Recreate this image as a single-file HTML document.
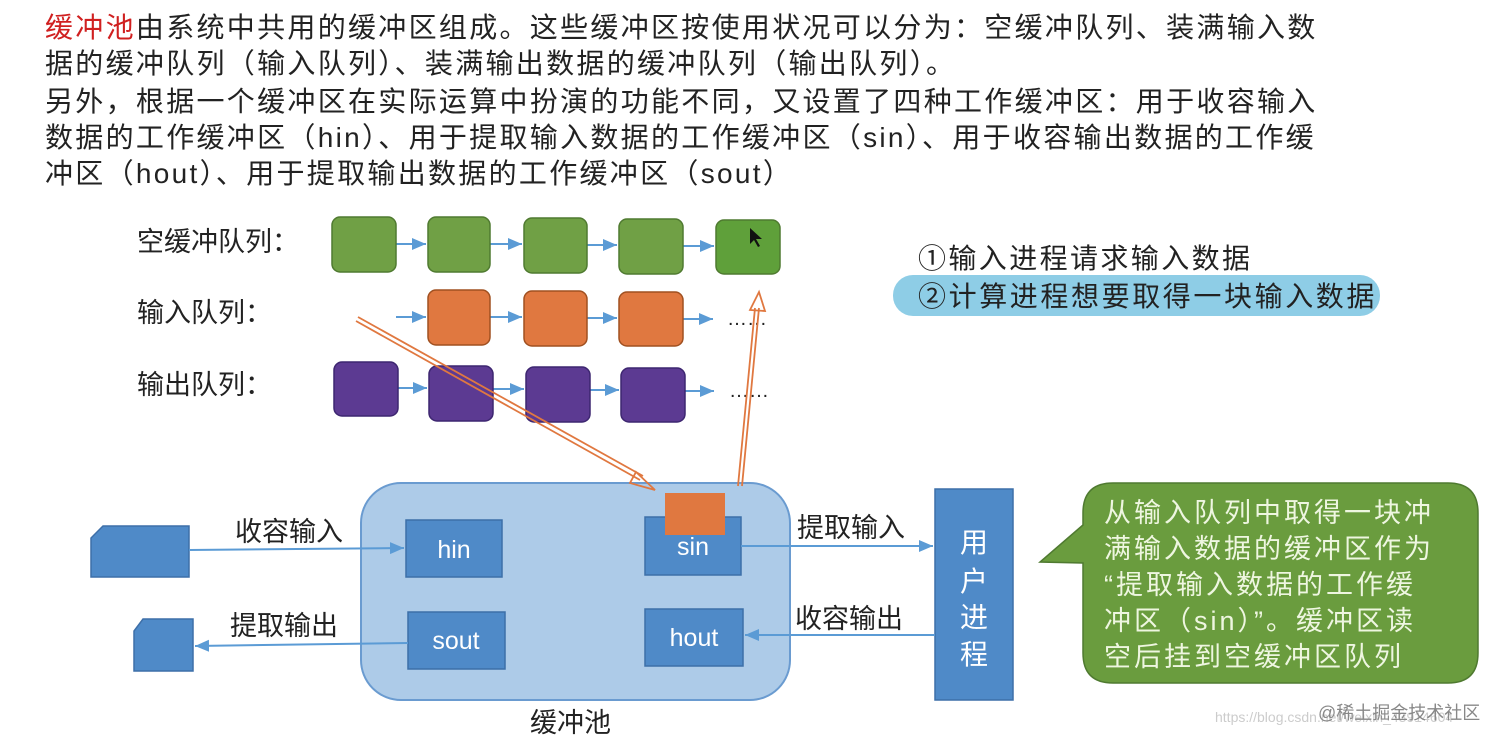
<!DOCTYPE html>
<html><head><meta charset="utf-8"><style>
html,body{margin:0;padding:0;background:#fff;}
.t{position:absolute;font-family:"Liberation Sans","Noto Sans CJK SC",sans-serif;white-space:nowrap;color:#222;}
</style></head><body>
<div style="position:relative;width:1501px;height:743px;overflow:hidden;">
<div class="t" style="left:45px;top:10px;font-size:28px;letter-spacing:2.3px;line-height:36px;"><span style="color:#d02020">缓冲池</span>由系统中共用的缓冲区组成。这些缓冲区按使用状况可以分为：空缓冲队列、装满输入数<br>据的缓冲队列（输入队列）、装满输出数据的缓冲队列（输出队列）。</div>
<div class="t" style="left:45px;top:84px;font-size:28px;letter-spacing:2.3px;line-height:36px;">另外，根据一个缓冲区在实际运算中扮演的功能不同，又设置了四种工作缓冲区：用于收容输入<br>数据的工作缓冲区（hin）、用于提取输入数据的工作缓冲区（sin）、用于收容输出数据的工作缓<br>冲区（hout）、用于提取输出数据的工作缓冲区（sout）</div>
<svg width="1501" height="743" style="position:absolute;left:0;top:0" font-family="Liberation Sans, Noto Sans CJK SC, sans-serif">
<defs><marker id="a" markerWidth="8" markerHeight="8" refX="7" refY="4" orient="auto"><path d="M0,1 L7,4 L0,7z" fill="#5b9bd5"/></marker></defs>
<rect x="893" y="275" width="487" height="41" rx="20" fill="#8ecde6"/>
<text x="918" y="268" font-size="28" letter-spacing="2.4" fill="#222">①输入进程请求输入数据</text>
<text x="918" y="306" font-size="28" letter-spacing="2.6" fill="#222">②计算进程想要取得一块输入数据</text>
<g font-size="27" fill="#222">
<text x="137" y="251">空缓冲队列：</text>
<text x="137" y="322">输入队列：</text>
<text x="137" y="394">输出队列：</text>
</g>
<g stroke="#5b9bd5" stroke-width="2" marker-end="url(#a)">
<line x1="396" y1="244" x2="426" y2="244"/><line x1="490" y1="244" x2="522" y2="244"/><line x1="587" y1="245" x2="617" y2="245"/><line x1="683" y1="246" x2="714" y2="246"/>
<line x1="396" y1="317" x2="426" y2="317"/><line x1="490" y1="317" x2="522" y2="317"/><line x1="587" y1="318" x2="617" y2="318"/><line x1="683" y1="319" x2="713" y2="319"/>
<line x1="398" y1="388" x2="427" y2="388"/><line x1="493" y1="389" x2="524" y2="389"/><line x1="590" y1="390" x2="619" y2="390"/><line x1="685" y1="391" x2="714" y2="391"/>
</g>
<text x="727" y="325" font-size="20" fill="#222">……</text>
<text x="729" y="397" font-size="20" fill="#222">……</text>
<g fill="#70a045" stroke="#4f7a30" stroke-width="1.5">
<rect x="332" y="217" width="64" height="55" rx="8"/><rect x="428" y="217" width="62" height="55" rx="8"/><rect x="524" y="218" width="63" height="55" rx="8"/><rect x="619" y="219" width="64" height="55" rx="8"/><rect x="716" y="220" width="64" height="54" rx="8" fill="#5fa03a"/>
</g>
<g fill="#e07840" stroke="#a05020" stroke-width="1.5">
<rect x="428" y="290" width="62" height="55" rx="8"/><rect x="524" y="291" width="63" height="55" rx="8"/><rect x="619" y="292" width="64" height="54" rx="8"/>
</g>
<g fill="#5c3a92" stroke="#3d2670" stroke-width="1.5">
<rect x="334" y="362" width="64" height="54" rx="8"/><rect x="429" y="366" width="64" height="55" rx="8"/><rect x="526" y="367" width="64" height="55" rx="8"/><rect x="621" y="368" width="64" height="54" rx="8"/>
</g>
<path d="M750,228 l0,16 l4,-4 l4,7 l2,-1 l-4,-7 l6,0z" fill="#111"/>
<rect x="361" y="483" width="429" height="217" rx="40" fill="#adcbe8" stroke="#6a9bd0" stroke-width="2"/>
<g fill="#4f8ac8" stroke="#3d6fa8" stroke-width="1.5">
<rect x="406" y="520" width="96" height="57"/><rect x="645" y="517" width="96" height="58"/><rect x="408" y="612" width="97" height="57"/><rect x="645" y="609" width="98" height="57"/>
<rect x="935" y="489" width="78" height="211"/>
<path d="M103,526 L189,526 L189,577 L91,577 L91,538z"/>
<path d="M143,619 L193,619 L193,671 L134,671 L134,631z"/>
</g>
<rect x="665" y="493" width="60" height="42" fill="#e07840"/>
<g font-size="25" fill="#fff" text-anchor="middle">
<text x="454" y="558">hin</text><text x="693" y="555">sin</text><text x="456" y="649">sout</text><text x="694" y="646">hout</text>
</g>
<g font-size="28" fill="#fff" text-anchor="middle">
<text x="974" y="552">用</text><text x="974" y="591">户</text><text x="974" y="627">进</text><text x="974" y="664">程</text>
</g>
<g stroke="#5b9bd5" stroke-width="2" marker-end="url(#a)">
<line x1="189" y1="550" x2="404" y2="548"/><line x1="741" y1="546" x2="933" y2="546"/>
<line x1="935" y1="635" x2="745" y2="635"/><line x1="408" y1="643" x2="195" y2="646"/>
</g>
<g font-size="27" fill="#222">
<text x="235" y="541">收容输入</text><text x="797" y="537">提取输入</text>
<text x="230" y="635">提取输出</text><text x="795" y="628">收容输出</text>
<text x="530" y="732">缓冲池</text>
</g>
<g stroke="#e07840" stroke-width="1.8" fill="none">
<line x1="356" y1="321" x2="640" y2="480"/>
<line x1="358" y1="317" x2="643" y2="476"/>
<path d="M636,472 L655,490 L630,483z"/>
<line x1="738" y1="486" x2="755" y2="308"/>
<line x1="742" y1="486" x2="759" y2="308"/>
<path d="M750,310 L759,292 L765,311z"/>
</g>
<path d="M1113,483 L1448,483 Q1478,483 1478,513 L1478,653 Q1478,683 1448,683 L1113,683 Q1083,683 1083,653 L1083,563 L1040,562 L1083,525 L1083,513 Q1083,483 1113,483z" fill="#6a9c3e" stroke="#4f7a30" stroke-width="1.5"/>
<g font-size="27" fill="#eef6e0" letter-spacing="3">
<text x="1104" y="522">从输入队列中取得一块冲</text>
<text x="1104" y="558">满输入数据的缓冲区作为</text>
<text x="1104" y="594">“提取输入数据的工作缓</text>
<text x="1104" y="630">冲区（sin）”。缓冲区读</text>
<text x="1104" y="666">空后挂到空缓冲区队列</text>
</g>
<text x="1215" y="722" font-size="14" fill="#ccc">https://blog.csdn.net/weixin_43914604</text>
<text x="1318" y="719" font-size="18" fill="#888">@稀土掘金技术社区</text>
</svg>
</div>
</body></html>
